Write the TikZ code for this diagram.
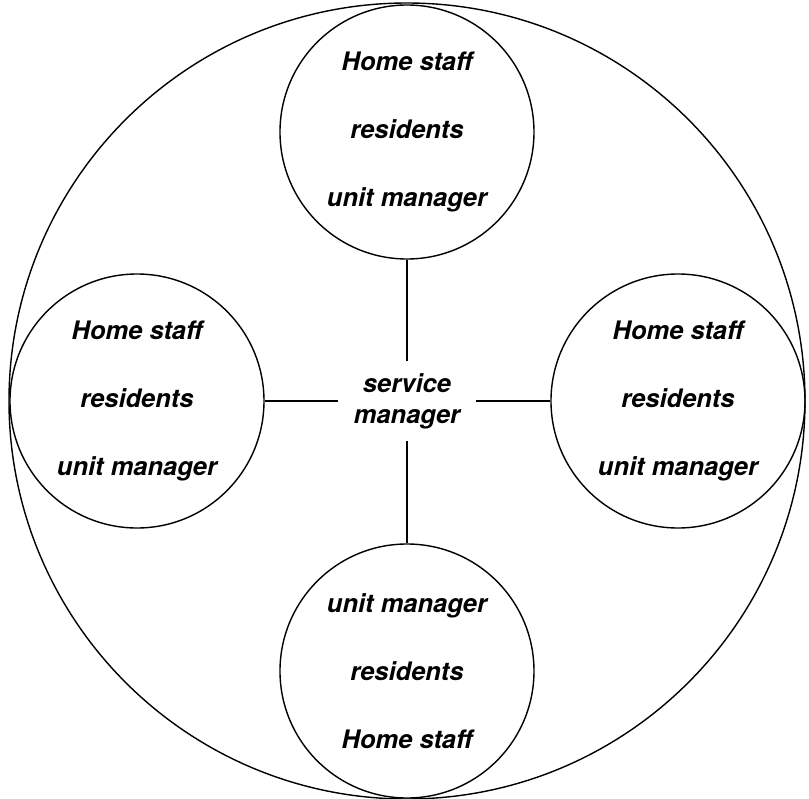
\documentclass[tikz,border=0pt]{standalone}
\usepackage{fontspec}
\usepackage{tikz}
\usetikzlibrary{positioning}
\newfontfamily\labelfont{TeX Gyre Heros}

\begin{document}
\begin{tikzpicture}[
    ring/.style={
      circle,
      draw=black,
      line width=0.8pt,
      inner sep=0pt
    },
    unit/.style={
      ring,
      minimum size=5.08cm,
      align=center,
      font=\labelfont\bfseries\itshape\fontsize{14.5}{38.6}\selectfont
    },
    hub/.style={
      minimum width=2.74cm,
      minimum height=1.58cm,
      inner sep=0pt,
      align=center,
      font=\labelfont\bfseries\itshape\fontsize{14.5}{17.6}\selectfont
    },
    link/.style={line width=0.8pt, draw=black}
  ]
    \useasboundingbox (-8.14,-7.96) rectangle (8.04,8.02);

    % whole service
    \node[ring, minimum size=15.92cm] (service) at (0,0) {};

    \node[hub] (manager) at (0,0) {service\\manager};

    \node[unit, above=5.38cm of manager.center, anchor=center] (unitN) {Home staff\\residents\\unit manager};
    \node[unit, left=5.4cm of manager.center, anchor=center] (unitW) {Home staff\\residents\\unit manager};
    \node[unit, right=5.42cm of manager.center, anchor=center] (unitE) {Home staff\\residents\\unit manager};
    \node[unit, below=5.4cm of manager.center, anchor=center] (unitS) {unit manager\\residents\\Home staff};

    \draw[link] (unitN) -- (manager);
    \draw[link] (unitW) -- (manager);
    \draw[link] (unitE) -- (manager);
    \draw[link] (unitS) -- (manager);
  \end{tikzpicture}
\end{document}
